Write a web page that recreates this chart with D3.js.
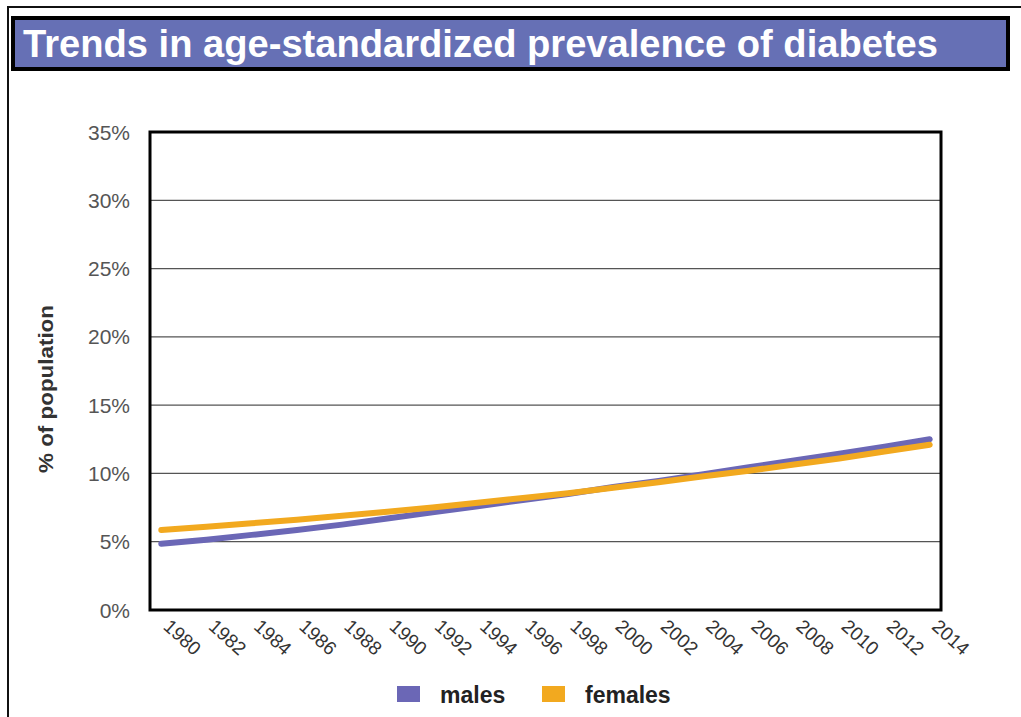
<!DOCTYPE html>
<html>
<head>
<meta charset="utf-8">
<script src="https://cdn.jsdelivr.net/npm/d3@7"></script>
<style>
  body { margin: 0; background: #fff; }
  svg { display: block; font-family: "Liberation Sans", Arial, sans-serif; }
</style>
</head>
<body>
<div id="chart"></div>
<script>
// data (percent)
const years = [1980, 1982, 1984, 1986, 1988, 1990, 1992, 1994, 1996, 1998, 2000, 2002, 2004, 2006, 2008, 2010, 2012, 2014];
const males = [4.85, 5.15, 5.5, 5.85, 6.25, 6.7, 7.15, 7.6, 8.05, 8.5, 9.0, 9.45, 9.95, 10.45, 10.95, 11.45, 11.95, 12.5];
const females = [5.85, 6.1, 6.35, 6.6, 6.9, 7.2, 7.5, 7.85, 8.2, 8.55, 8.95, 9.35, 9.8, 10.2, 10.65, 11.1, 11.6, 12.1];
const yTicks = [0, 5, 10, 15, 20, 25, 30, 35];
const seriesNames = ["males", "females"];
const seriesColors = ["#6b67b6", "#f2a91f"];

const width = 1021, height = 717;
const margin = { top: 132, right: 80, bottom: 107, left: 150 };

const svg = d3.select("#chart").append("svg")
  .attr("width", width)
  .attr("height", height);

// outer frame (top and left edges only)
svg.append("path")
  .attr("d", "M8," + height + "V7H" + width)
  .attr("fill", "none")
  .attr("stroke", "#111")
  .attr("stroke-width", 2);

// title banner
svg.append("rect")
  .attr("x", 13).attr("y", 18)
  .attr("width", 995).attr("height", 51)
  .attr("fill", "#6670b5")
  .attr("stroke", "#000")
  .attr("stroke-width", 4);
svg.append("text")
  .attr("x", 23).attr("y", 57)
  .attr("fill", "#fff")
  .attr("font-size", 38)
  .attr("font-weight", "bold")
  .attr("textLength", 915)
  .attr("lengthAdjust", "spacingAndGlyphs")
  .text("Trends in age-standardized prevalence of diabetes");

const x = d3.scaleLinear()
  .domain([1979.5, 2014.5])
  .range([margin.left, width - margin.right]);
const y = d3.scaleLinear()
  .domain([0, 35])
  .range([height - margin.bottom, margin.top]);

// gridlines
svg.append("g")
  .selectAll("line")
  .data(yTicks.slice(1, -1))
  .join("line")
  .attr("x1", x.range()[0]).attr("x2", x.range()[1])
  .attr("y1", d => y(d)).attr("y2", d => y(d))
  .attr("stroke", "#555")
  .attr("stroke-width", 1.3);

// y labels
svg.append("g")
  .selectAll("text")
  .data(yTicks)
  .join("text")
  .attr("x", 130)
  .attr("y", d => y(d))
  .attr("dy", "0.36em")
  .attr("text-anchor", "end")
  .attr("font-size", 21)
  .attr("fill", "#555")
  .text(d => d + "%");

svg.append("text")
  .attr("transform", "translate(53,389) rotate(-90)")
  .attr("text-anchor", "middle")
  .attr("font-size", 21)
  .attr("font-weight", "bold")
  .attr("fill", "#333")
  .attr("textLength", 168)
  .attr("lengthAdjust", "spacingAndGlyphs")
  .text("% of population");

// x labels, slanted
svg.append("g")
  .selectAll("text")
  .data(years)
  .join("text")
  .attr("transform", d => "translate(" + (x(d) + 1) + ",628) rotate(42)")
  .attr("font-size", 19)
  .attr("fill", "#333")
  .text(d => d);

// lines
const line = d3.line()
  .x((d, i) => x(years[i]))
  .y(d => y(d));

[males, females].forEach((s, k) => {
  svg.append("path")
    .datum(s)
    .attr("d", line)
    .attr("fill", "none")
    .attr("stroke", seriesColors[k])
    .attr("stroke-width", 6)
    .attr("stroke-linecap", "round");
});

// plot frame
svg.append("rect")
  .attr("x", x.range()[0]).attr("y", y(35))
  .attr("width", x.range()[1] - x.range()[0])
  .attr("height", y(0) - y(35))
  .attr("fill", "none")
  .attr("stroke", "#000")
  .attr("stroke-width", 3);

// legend
const legend = svg.append("g")
  .selectAll("g")
  .data(seriesNames)
  .join("g")
  .attr("transform", (d, i) => "translate(" + [397, 542][i] + ",686)");
legend.append("rect")
  .attr("width", 23).attr("height", 16)
  .attr("fill", (d, i) => seriesColors[i]);
legend.append("text")
  .attr("x", 43).attr("y", 17)
  .attr("font-size", 23)
  .attr("font-weight", "bold")
  .attr("fill", "#222")
  .text(d => d);
</script>
</body>
</html>
